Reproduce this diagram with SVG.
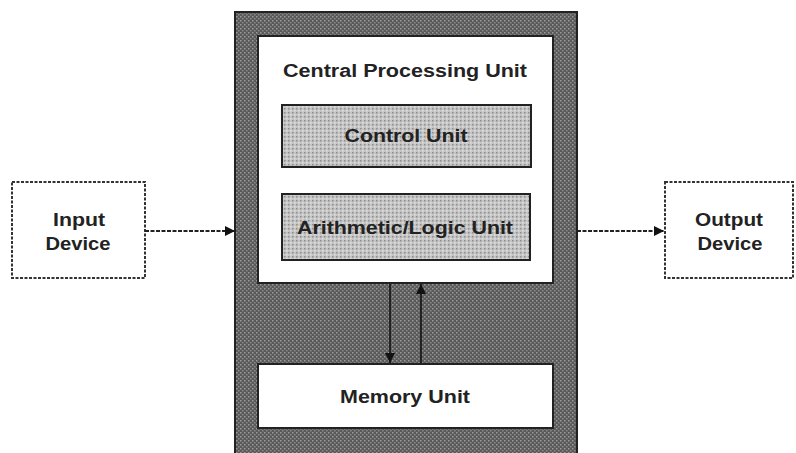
<svg xmlns="http://www.w3.org/2000/svg" width="796" height="453" viewBox="0 0 796 453">
<defs>
<pattern id="dark" width="4" height="4" patternUnits="userSpaceOnUse">
<rect width="4" height="4" fill="#5a5a5a"/>
<rect x="0" y="0" width="1.5" height="1.5" fill="#9a9a9a"/>
<rect x="2" y="2" width="1.5" height="1.5" fill="#8a8a8a"/>
</pattern>
<pattern id="light" width="4" height="4" patternUnits="userSpaceOnUse">
<rect width="4" height="4" fill="#c4c4c4"/>
<rect x="0" y="0" width="1.5" height="1.5" fill="#8e8e8e"/>
<rect x="2" y="2" width="1.5" height="1.5" fill="#e0e0e0"/>
</pattern>
<marker id="ah" viewBox="0 0 10 10" refX="10" refY="5" markerWidth="10" markerHeight="10" markerUnits="userSpaceOnUse" orient="auto">
<path d="M0,0 L10,5 L0,10 z" fill="#111"/>
</marker>
</defs>
<style>
.lbl{font-family:"Liberation Sans",Arial,sans-serif;font-weight:bold;font-size:18px;fill:#222;text-anchor:middle}
.box{stroke:#222;stroke-width:2}
.dev{fill:#fff;stroke:#333;stroke-width:2;stroke-dasharray:3 1.5}
.conn{stroke:#222;stroke-width:2;fill:none;marker-end:url(#ah)}
</style>
<rect width="796" height="453" fill="#fff"/>
<g id="system">
<rect class="box" x="235" y="12" width="342" height="445" fill="url(#dark)"/>
</g>
<g id="cpu">
<rect class="box" x="258" y="36" width="295" height="247" fill="#fff"/>
<text class="lbl" x="405" y="77" textLength="244" lengthAdjust="spacingAndGlyphs">Central Processing Unit</text>
</g>
<g id="control-unit">
<rect class="box" x="282" y="105" width="249" height="62" fill="url(#light)"/>
<text class="lbl" x="406" y="142" textLength="123" lengthAdjust="spacingAndGlyphs">Control Unit</text>
</g>
<g id="alu">
<rect class="box" x="282" y="194" width="248" height="66" fill="url(#light)"/>
<text class="lbl" x="405" y="234" textLength="216" lengthAdjust="spacingAndGlyphs">Arithmetic/Logic Unit</text>
</g>
<g id="memory-unit">
<rect class="box" x="258" y="364" width="295" height="64" fill="#fff"/>
<text class="lbl" x="405" y="403" textLength="130" lengthAdjust="spacingAndGlyphs">Memory Unit</text>
</g>
<g id="input-device">
<rect class="dev" x="12" y="182" width="133" height="96"/>
<text class="lbl" x="79" y="226" textLength="52" lengthAdjust="spacingAndGlyphs">Input</text>
<text class="lbl" x="78" y="250" textLength="65" lengthAdjust="spacingAndGlyphs">Device</text>
</g>
<g id="output-device">
<rect class="dev" x="665" y="182" width="128" height="96"/>
<text class="lbl" x="729" y="226" textLength="68" lengthAdjust="spacingAndGlyphs">Output</text>
<text class="lbl" x="730" y="250" textLength="65" lengthAdjust="spacingAndGlyphs">Device</text>
</g>
<g id="connectors">
<line class="conn" x1="145" y1="231" x2="235" y2="231" stroke-dasharray="4 1.5"/>
<line class="conn" x1="577" y1="231" x2="664" y2="231" stroke-dasharray="4 1.5"/>
<line class="conn" x1="390" y1="284" x2="390" y2="363"/>
<line class="conn" x1="421" y1="363" x2="421" y2="284"/>
</g>
</svg>
